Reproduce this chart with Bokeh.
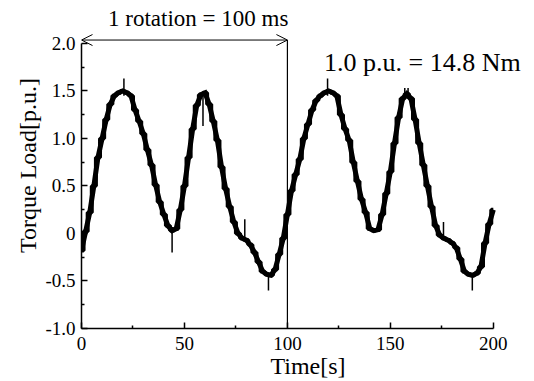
from bokeh.plotting import figure
from bokeh.models import FixedTicker, Label, Arrow, OpenHead, Title
from bokeh.embed import file_html
from bokeh.resources import INLINE

# ---- data ----
time_s = [0, 2, 4, 6, 8, 10, 12, 14, 16, 18, 20, 22, 24, 26, 28, 30, 32, 34, 36, 38,
          40, 42, 44, 46, 48, 50, 52, 54, 56, 58, 60, 62, 64, 66, 68, 70, 72, 74, 76, 78,
          80, 82, 84, 86, 88, 90, 92, 94, 96, 98, 100, 102, 104, 106, 108, 110, 112, 114,
          116, 118, 120, 122, 124, 126, 128, 130, 132, 134, 136, 138, 140, 142, 144, 146,
          148, 150, 152, 154, 156, 158, 160, 162, 164, 166, 168, 170, 172, 174, 176, 178,
          180, 182, 184, 186, 188, 190, 192, 194, 196, 198, 200]
torque = [-0.18, 0.02, 0.22, 0.5, 0.8, 1.0, 1.2, 1.36, 1.45, 1.48, 1.5, 1.48, 1.45, 1.3,
          1.18, 1.05, 0.88, 0.72, 0.51, 0.33, 0.2, 0.08, 0.03, 0.05, 0.25, 0.5, 0.8, 1.1,
          1.35, 1.46, 1.48, 1.36, 1.18, 0.98, 0.7, 0.47, 0.28, 0.12, 0.0, -0.05, -0.07,
          -0.12, -0.2, -0.3, -0.4, -0.43, -0.44, -0.38, -0.22, -0.05, 0.2, 0.45, 0.62,
          0.78, 1.0, 1.15, 1.3, 1.4, 1.45, 1.48, 1.5, 1.48, 1.45, 1.25, 1.1, 0.98, 0.75,
          0.55, 0.36, 0.22, 0.05, 0.03, 0.04, 0.2, 0.42, 0.65, 0.95, 1.22, 1.42, 1.47,
          1.42, 1.2, 0.95, 0.72, 0.5, 0.28, 0.08, -0.02, -0.05, -0.07, -0.1, -0.15, -0.27,
          -0.4, -0.43, -0.44, -0.42, -0.35, -0.1, 0.1, 0.25]

# short spikes on the waveform
spike_t = [20.6, 44.0, 59.0, 79.3, 90.8, 119.5, 157.0, 158.6, 175.8, 189.8]
spike_from = [1.45, 0.02, 1.48, -0.05, -0.44, 1.45, 1.45, 1.45, -0.05, -0.44]
spike_to = [1.63, -0.2, 1.13, 0.15, -0.6, 1.63, 1.53, 1.53, 0.12, -0.6]

x_ticks = [0, 50, 100, 150, 200]
x_minor = [25, 75, 125, 175]
y_ticks = [-1.0, -0.5, 0.0, 0.5, 1.0, 1.5, 2.0]
y_minor = [-0.75, -0.25, 0.25, 0.75, 1.25, 1.75]
y_labels = {-1.0: "-1.0", -0.5: "-0.5", 0.0: "0", 0.5: "0.5", 1.0: "1.0", 1.5: "1.5", 2.0: "2.0"}

rotation_start, rotation_end, arrow_y = 0, 100, 2.035
title_text = "1 rotation = 100 ms"
pu_text = "1.0 p.u. = 14.8 Nm"

FONT = "Liberation Serif"

p = figure(width=534, height=381, x_range=(0, 220), y_range=(-1.0, 2.43),
           output_backend="svg", toolbar_location=None,
           min_border_left=81, min_border_right=0, min_border_top=2, min_border_bottom=53)
p.outline_line_color = None
p.xgrid.grid_line_color = None
p.ygrid.grid_line_color = None
p.background_fill_color = "white"
p.border_fill_color = "white"

for ax in (p.xaxis[0], p.yaxis[0]):
    ax.axis_line_color = "black"
    ax.axis_line_width = 1.5
    ax.major_tick_in = 6
    ax.major_tick_out = 0
    ax.minor_tick_in = 3
    ax.minor_tick_out = 0
    ax.major_tick_line_width = 1.5
    ax.minor_tick_line_width = 1.5
    ax.major_tick_line_color = "black"
    ax.minor_tick_line_color = "black"
    ax.major_label_text_font = FONT
    ax.major_label_text_font_size = "19px"
    ax.major_label_text_color = "black"
    ax.axis_label_text_font = FONT
    ax.axis_label_text_font_size = "24px"
    ax.axis_label_text_font_style = "normal"
    ax.axis_label_text_color = "black"

p.xaxis.bounds = (0, 200)
p.yaxis.bounds = (-1.0, 2.0)
p.xaxis.ticker = FixedTicker(ticks=x_ticks, minor_ticks=x_minor)
p.yaxis.ticker = FixedTicker(ticks=y_ticks, minor_ticks=y_minor)
p.yaxis.major_label_overrides = y_labels
p.xaxis.axis_label = "Time[s]"
p.xaxis.major_label_standoff = 8
p.xaxis.axis_label_standoff = 0
p.yaxis.major_label_standoff = 6

p.add_layout(Title(text="Torque Load[p.u.]", align="center", offset=-32,
                   text_font=FONT, text_font_size="24px", text_font_style="normal",
                   text_color="black", standoff=4), "left")

p.line(time_s, torque, line_width=5, line_color="black", line_join="miter")
p.step(time_s, torque, mode="center", line_width=4, line_color="black")
p.segment(x0=spike_t, y0=spike_from, x1=spike_t, y1=spike_to, line_width=1.5, line_color="black")
p.segment(x0=[rotation_end], y0=[-1.0], x1=[rotation_end], y1=[arrow_y],
          line_width=1.2, line_color="black")

p.add_layout(Arrow(start=OpenHead(size=11, line_width=1), end=OpenHead(size=11, line_width=1),
                   x_start=rotation_start, y_start=arrow_y, x_end=rotation_end, y_end=arrow_y,
                   line_width=1, line_color="black"))

p.add_layout(Label(x=56.7, y=2.26, text=title_text, text_align="center", text_baseline="middle",
                   text_font=FONT, text_font_size="23px", text_color="black"))
p.add_layout(Label(x=117.8, y=1.8, text=pu_text, text_align="left", text_baseline="middle",
                   text_font=FONT, text_font_size="26px", text_color="black"))

open("out.html", "w").write(file_html(p, INLINE))
